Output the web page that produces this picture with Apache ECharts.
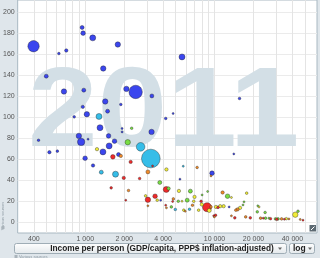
<!DOCTYPE html>
<html><head><meta charset="utf-8">
<script src="https://cdn.jsdelivr.net/npm/echarts@6/dist/echarts.min.js"></script>
<style>html,body{margin:0;padding:0;background:#dfe6eb;}#c{width:320px;height:258px;}</style>
</head><body><div id="c"></div>
<script>
const yearLabel = '2011';
const xTitle = 'Income per person (GDP/capita, PPP$ inflation-adjusted)';
const xScaleName = 'log';
const sourceText = 'Various sources';
const xMin = 300, xMax = 62000, yMin = -10, yMax = 211.5;
const xLabelValues = [400, 1000, 2000, 4000, 10000, 20000, 40000];
const xGridValues = [400,500,600,700,800,900,1000,2000,3000,4000,5000,6000,7000,8000,9000,10000,20000,30000,40000,50000];
const yLabelValues = [0,20,40,60,80,100,120,140,160,180,200];

// [income per person, under-5 child mortality, population (millions)]
const subSaharanAfrica = [
[398,167.6,392],[945,185.4,25],[962,180,38],[1142,175.5,81],[1785,169.2,61],[625,160.6,5],[713,163.5,14],
[1377,146.4,61],[499,139.1,25],[684,124.5,61],[974,125.8,25],[2453,124.1,566],[2080,127,61],[3273,120.3,25],
[1427,115,61],[957,109.9,14],[1883,112.2,5],[1488,105.8,25],[1028,102.9,61],[821,100.4,5],[1300,90.1,81],
[1926,89.4,1],[1926,86.1,1],[3256,86.1,61],[435,78.2,5],[892,82.3,61],[929,76.6,139],[1051,79.2,1],
[1514,82.3,38],[1684,77.3,38],[1530,72.8,81],[528,66.8,14],[608,67.8,5],[1370,67.1,81],[1807,64.6,25],
[997,61.1,38],[1148,54.2,14],[5600,157.4,81],[15600,117.9,5],[4190,98.9,5],[4780,103.6,1],[14090,65.2,1],
[9555,46.9,38],[5400,41.2,1],[3830,21.2,1],[12960,14.8,1]
];
const southAsia = [
[1277,100.8,81],[2680,71.9,202],[3215,60.8,1183],[1330,47.8,25],[1714,45.9,81],[5725,53.5,1],[4971,12.4,5],[6400,12.6,5]
];
const europeCentralAsia = [
[2285,89.6,5],[2130,76.3,61],[3770,38,25],[4410,32.3,14],[6500,29.8,25],[6144,21.2,25],[8010,26.2,1],
[8840,29.5,1],[12600,25,38],[16600,16.7,1],[21600,15.8,1],[21400,10.1,5],[24600,9.5,5],[44200,10.7,5],
[29580,3.4,5],[31000,3.4,5],[4631,14.8,5],[5240,20.2,5],[24790,4.1,5],[26300,4.1,1],[16900,19.6,1]
];
const eastAsiaPacific = [
[1634,62.4,38],[2245,57.6,14],[3314,53.8,1],[1985,42.4,14],[2633,41.8,5],[1586,32.9,5],[3467,25,38],
[3050,21.6,61],[2056,21.2,1],[4230,31.4,81],[4740,20,1],[8750,14.5,225],[10630,14.3,5],[10180,6.9,5],
[9850,6.3,1],[14340,4.4,5],[18900,4.4,5],[23800,4.1,1],[27080,3.6,5],[30300,3.1,5],[34670,3.1,1],
[48300,2.2,1],[4190,16.4,1],[7870,20.2,5]
];
const america = [
[1232,69.7,14],[2927,25.3,5],[3600,21.2,5],[4243,50.4,14],[5300,30,14],[7000,24.3,14],[6900,20.2,5],
[5600,20.2,1],[13500,23.8,1],[17720,27.9,5],[7970,17.1,14],[10250,14.8,14],[11750,15.5,14],[15750,13.9,14],
[9100,11.4,25],[7530,11.7,5],[5780,11.7,5],[22100,14.8,1],[42110,7.4,61],[35920,3.6,5],[11050,15.5,14]
];
const middleEastNorthAfrica = [
[1883,63.3,14],[3050,48.1,25],[2160,30.4,5],[3050,15.8,1],[7329,52.3,5],[9390,44.3,1],[4800,22.4,5],
[11540,28.5,14],[15040,12.4,14],[17410,5.3,5],[9970,5.3,1],[45990,2.9,1],[9390,14.8,5],[14600,11.7,5],
[13500,6.3,1],[22700,4.1,5],[33000,3.4,5],[37600,3.4,1],[6750,16.4,5],[4243,13.9,1],[5930,10.7,1]
];

const regions = [
  {data: subSaharanAfrica, color: '#3b46ee'},
  {data: southAsia, color: '#36bde8'},
  {data: europeCentralAsia, color: '#78dd44'},
  {data: eastAsiaPacific, color: '#f02a2a'},
  {data: america, color: '#f0ec38'},
  {data: middleEastNorthAfrica, color: '#f08a28'}
];
let points = [];
regions.forEach(r => r.data.forEach(d => points.push({value: d, itemStyle: {color: r.color}})));
points.sort((a, b) => b.value[2] - a.value[2]);

const fmtNum = v => String(Math.round(v)).replace(/\B(?=(\d{3})+(?!\d))/g, ' ');
const FONT = 'Liberation Sans';
const boxFill = () => new echarts.graphic.LinearGradient(0,0,0,1,[{offset:0,color:'#ffffff'},{offset:1,color:'#e3e8eb'}]);

const chart = echarts.init(document.getElementById('c'), null, {renderer: 'canvas'});
chart.setOption({
  animation: false,
  backgroundColor: '#dfe6eb',
  grid: {left: 15, right: 3, top: 0, bottom: 25, show: true, backgroundColor: '#ffffff', borderColor: '#a9b8c2', borderWidth: 1},
  xAxis: [
    {type: 'log', logBase: 10, min: xMin, max: xMax, axisLine: {show: false}, axisTick: {show: false},
     axisLabel: {show: false}, splitLine: {show: false}},
    {type: 'value', min: Math.log10(xMin), max: Math.log10(xMax), position: 'bottom',
     axisLine: {show: false},
     axisTick: {show: false, customValues: xGridValues.map(v => Math.log10(v))},
     axisLabel: {customValues: xLabelValues.map(v => Math.log10(v)), formatter: v => fmtNum(Math.pow(10, v)),
       fontFamily: FONT, fontSize: 7, color: '#555', margin: 3},
     splitLine: {show: true, lineStyle: {color: '#e4e4e4', width: 1}}}
  ],
  yAxis: {type: 'value', min: yMin, max: yMax,
    axisLine: {show: false}, axisTick: {show: false, customValues: yLabelValues},
    axisLabel: {customValues: yLabelValues, fontFamily: FONT, fontSize: 7, color: '#555', margin: 3},
    splitLine: {show: true, lineStyle: {color: '#ebebeb', width: 1}}},
  graphic: [
    {type: 'text', z: 1, x: 27.9, y: 114.2, scaleX: 0.963, scaleY: 0.877,
     style: {x: 0, y: 0, text: yearLabel, font: 'bold 130px "Liberation Sans"', fill: '#d3dfe6', verticalAlign: 'middle', align: 'left'}},
    {type: 'rect', z: 10, shape: {x: 14.5, y: 243.5, width: 272, height: 10, r: 2},
     style: {fill: boxFill(), stroke: '#9fadb6', lineWidth: 1}},
    {type: 'text', z: 11, style: {x: 162, y: 248.7, text: xTitle, font: 'bold 8.3px "Liberation Sans"', fill: '#222', align: 'center', verticalAlign: 'middle'}},
    {type: 'polygon', z: 11, shape: {points: [[278,247.5],[282,247.5],[280,250]]}, style: {fill: '#666'}},
    {type: 'rect', z: 10, shape: {x: 289.5, y: 243.5, width: 25, height: 10, r: 2},
     style: {fill: boxFill(), stroke: '#9fadb6', lineWidth: 1}},
    {type: 'text', z: 11, style: {x: 293, y: 248.7, text: xScaleName, font: 'bold 8.5px "Liberation Sans"', fill: '#222', align: 'left', verticalAlign: 'middle'}},
    {type: 'polygon', z: 11, shape: {points: [[308,247.5],[312,247.5],[310,250]]}, style: {fill: '#666'}},
    {type: 'text', z: 11, style: {x: 19, y: 256.5, text: sourceText, font: '4px "Liberation Sans"', fill: '#8a97a0', align: 'left', verticalAlign: 'middle'}},
    {type: 'rect', z: 11, shape: {x: 14.5, y: 255, width: 3, height: 3}, style: {fill: '#aab4bb'}},
    {type: 'text', z: 11, rotation: Math.PI / 2, x: 3, y: 216, style: {x: 0, y: 0, text: sourceText, font: '4px "Liberation Sans"', fill: '#8a97a0', align: 'center', verticalAlign: 'middle'}},
    {type: 'rect', z: 11, shape: {x: 1.5, y: 226, width: 3, height: 3}, style: {fill: '#aab4bb'}},
    {type: 'rect', z: 11, shape: {x: 309.5, y: 225, width: 6.5, height: 6.5}, style: {fill: '#5d6a73'}},
    {type: 'polyline', z: 12, shape: {points: [[311,230],[314.5,226.5]]}, style: {stroke: '#fff', lineWidth: 1}}
  ],
  series: [{
    type: 'scatter', xAxisIndex: 0, z: 3,
    symbolSize: v => 1.5 + 0.5 * Math.sqrt(v[2]),
    itemStyle: {borderColor: 'rgba(30,30,30,0.75)', borderWidth: 0.5, opacity: 1},
    data: points
  }]
});
</script></body></html>
